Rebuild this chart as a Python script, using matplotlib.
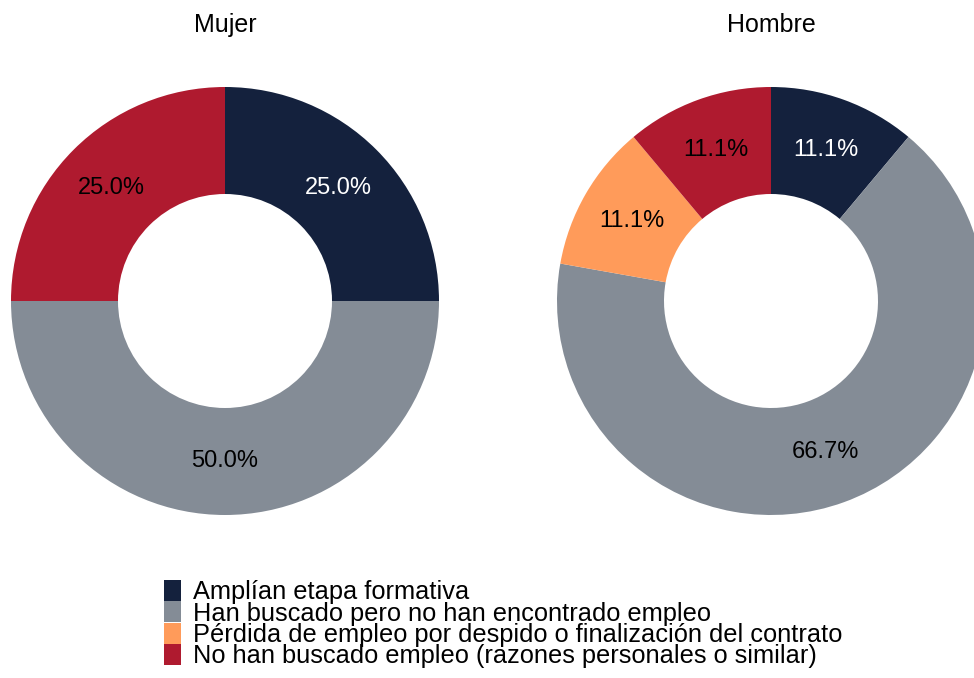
import matplotlib
matplotlib.use("Agg")
import matplotlib.pyplot as plt
from matplotlib.patches import Patch

plt.rcParams['font.family'] = ['Liberation Sans', 'DejaVu Sans']

# Datos
categorias = [
    'Amplían etapa formativa',
    'Han buscado pero no han encontrado empleo',
    'Pérdida de empleo por despido o finalización del contrato',
    'No han buscado empleo (razones personales o similar)',
]
colores = ['#14213D', '#848C96', '#FF9B5A', '#AF1A2F']
color_texto = ['white', 'black', 'black', 'black']

mujer = [25.0, 50.0, 0.0, 25.0]
hombre = [11.1, 66.7, 11.1, 11.1]

W, H = 974, 678
fig = plt.figure(figsize=(W / 100, H / 100), dpi=100)

R = 214  # radio en px


def donut(cx, cy, valores, titulo):
    ax = fig.add_axes([(cx - R) / W, (H - cy - R) / H, 2 * R / W, 2 * R / H])
    wedges, texts, autotexts = ax.pie(
        valores, colors=colores, startangle=90, counterclock=False,
        radius=1.0, wedgeprops=dict(width=0.5, linewidth=0),
        autopct=lambda p: f'{p:.1f}%' if p > 0 else '',
        pctdistance=0.75, textprops=dict(fontsize=17))
    for t, c in zip(autotexts, color_texto):
        t.set_color(c)
    ax.set_xlim(-1, 1)
    ax.set_ylim(-1, 1)
    ax.axis('off')
    fig.text(cx / W, 1 - 25 / H, titulo, ha='center', va='center', fontsize=18)
    return ax


donut(225, 301, mujer, 'Mujer')
donut(771, 301, hombre, 'Hombre')

handles = [Patch(facecolor=c, edgecolor='none') for c in colores]
fig.legend(handles, categorias, loc='upper left',
           bbox_to_anchor=(164 / W, 1 - 580 / H), frameon=False,
           fontsize=18.3, handlelength=0.66, handleheight=0.9,
           handletextpad=0.5, labelspacing=-0.12, borderpad=0,
           borderaxespad=0)

fig.savefig('out.png', dpi=100)
